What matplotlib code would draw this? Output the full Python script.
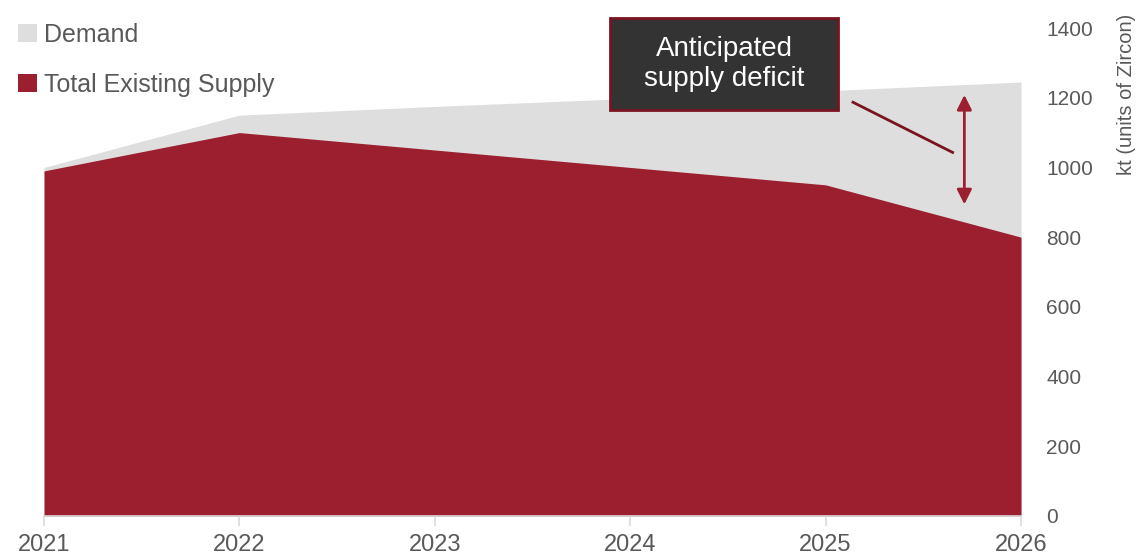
import matplotlib.pyplot as plt
from matplotlib.patches import Patch, Rectangle
from matplotlib import font_manager

# Data (kt of zircon)
years = [2021, 2022, 2023, 2024, 2025, 2026]
demand = [1000, 1150, 1175, 1198, 1220, 1245]
supply = [990, 1100, 1050, 1000, 950, 800]
y_ticks = [0, 200, 400, 600, 800, 1000, 1200, 1400]

RED = '#9b1f2e'
GREY = '#dedede'
TEXT = '#595959'

names = {f.name for f in font_manager.fontManager.ttflist}
family = 'Liberation Sans Narrow' if 'Liberation Sans Narrow' in names else 'Liberation Sans'
plt.rcParams['font.family'] = [family, 'DejaVu Sans']

fig = plt.figure(figsize=(11.37, 5.6), dpi=100)
ax = fig.add_axes([0.0387, 0.0786, 0.8593, 0.8714])

ax.fill_between(years, 0, demand, color=GREY, linewidth=0)
ax.fill_between(years, 0, supply, color=RED, linewidth=0)

ax.set_xlim(2021, 2026)
ax.set_ylim(0, 1400)
ax.set_xticks(years)
ax.set_xticklabels([str(y) for y in years])
ax.set_yticks(y_ticks)

# Axis styling: y-axis on the right, no frame except the bottom line
for side in ['left', 'top', 'right']:
    ax.spines[side].set_visible(False)
ax.spines['bottom'].set_color('#d9d9d9')
ax.spines['bottom'].set_linewidth(1.2)
ax.yaxis.tick_right()
ax.yaxis.set_label_position('right')
ax.tick_params(axis='y', length=0, pad=18, labelsize=15, labelcolor=TEXT)
ax.tick_params(axis='x', length=7, width=1.2, color='#d9d9d9', pad=6,
               labelsize=17, labelcolor=TEXT)
ax.set_ylabel('kt (units of Zircon)', fontsize=14.5, color=TEXT)
ax.yaxis.set_label_coords(1.098, 0.865)

# Legend in the top left
handles = [Patch(facecolor=GREY, label='Demand'),
           Patch(facecolor=RED, label='Total Existing Supply')]
leg = fig.legend(handles=handles, loc='upper left', bbox_to_anchor=(-0.004, 1.0),
                 frameon=False, fontsize=18, labelspacing=1.05,
                 handlelength=0.75, handleheight=0.75, handletextpad=0.3)
for t in leg.get_texts():
    t.set_color(TEXT)

# Callout box
fig.add_artist(Rectangle((0.5365, 0.8036), 0.2005, 0.164, transform=fig.transFigure,
                         facecolor='#333333', edgecolor='#7a1420', linewidth=2))
fig.text(0.6368, 0.8857, 'Anticipated\nsupply deficit', ha='center', va='center',
         fontsize=20, color='white', linespacing=1.2)

# Leader line and double arrow showing the gap
ax.plot([2025.14, 2025.65], [1187, 1043], color='#7a1420', linewidth=2)
ax.annotate('', xy=(2025.71, 1216), xytext=(2025.71, 886),
            arrowprops=dict(arrowstyle='<|-|>', color=RED, linewidth=2,
                            mutation_scale=22))

fig.savefig('out.png', dpi=100)
